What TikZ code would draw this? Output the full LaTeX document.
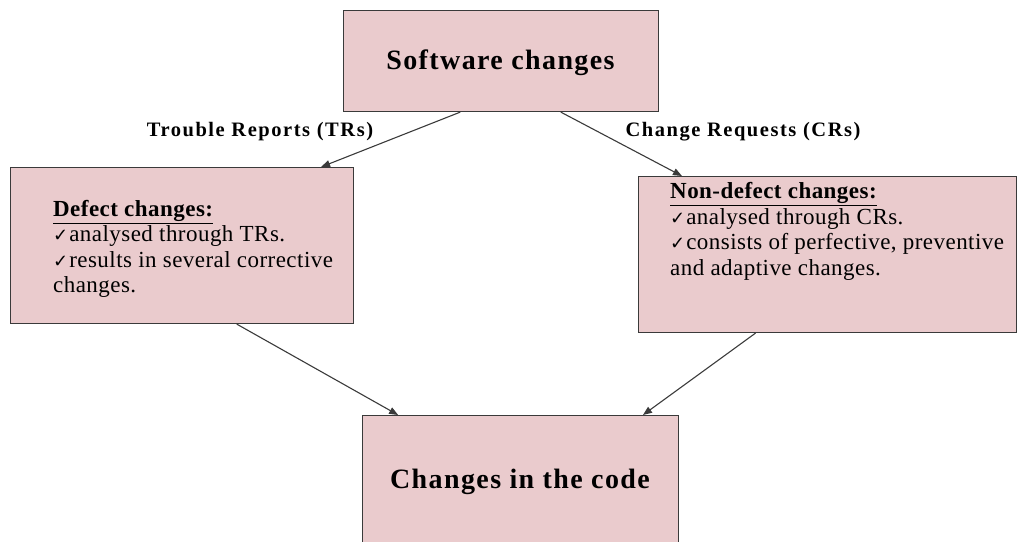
\documentclass[tikz,border=0pt]{standalone}
\usepackage{fontspec}
\setmainfont{Liberation Serif}
\newfontfamily\tickfont{DejaVu Sans}
\usetikzlibrary{arrows.meta,calc}
\definecolor{boxfill}{HTML}{EACBCD}
\definecolor{edge}{HTML}{3A3A3A}
% check mark used at the start of each bullet line
\newcommand{\tick}{{\tickfont\fontsize{18}{18}\selectfont ✓}\hspace{1pt}}

\begin{document}
\begin{tikzpicture}[x=1pt,y=1pt,
  box/.style={draw=edge, fill=boxfill, line width=1.1pt, inner sep=0pt, anchor=north west},
  flow/.style={draw=edge, line width=1.1pt, -{Triangle[length=9pt,width=7pt]}},
  title/.style={inner sep=0pt, font=\bfseries\fontsize{28}{30}\selectfont\addfontfeature{LetterSpace=5}},
  lbl/.style={inner sep=0pt, font=\bfseries\fontsize{20.5}{22}\selectfont\addfontfeature{LetterSpace=7.5}},
  body/.style={align=left, anchor=west, inner sep=0pt, font=\fontsize{23}{25.5}\selectfont\addfontfeature{LetterSpace=2}}]
\useasboundingbox (0,0) rectangle (1019,-541);

% boxes
\node[box, minimum width=315, minimum height=101] (sw) at (343,-10) {};
\node[box, minimum width=343, minimum height=156] (def) at (10,-167) {};
\node[box, minimum width=378, minimum height=156] (ndef) at (638,-176) {};
\node[box, minimum width=316, minimum height=140] (code) at (362,-415) {};

% box texts
\node[title] (swt) at (500.5,-63) {Software changes};
\node[title] (codet) at (520,-482) {Changes in the code};
\node[body] (deft) at (53,-249) {\textbf{\underline{Defect changes:}}\\
  \tick analysed through TRs.\\
  \tick results in several corrective\\
  changes.};
\node[body] (ndeft) at (670,-231.5) {\textbf{\underline{Non-defect changes:}}\\
  \tick analysed through CRs.\\
  \tick consists of perfective, preventive\\
  and adaptive changes.};

% connector labels
\node[lbl] (tr) at (260,-132) {Trouble Reports (TRs)};
\node[lbl] (cr) at (743,-132) {Change Requests (CRs)};

% connectors
\draw[flow] ($(sw.south west)!0.371!(sw.south east)$) -- ($(def.north west)!0.904!(def.north east)$);
\draw[flow] ($(sw.south west)!0.689!(sw.south east)$) -- ($(ndef.north west)!0.116!(ndef.north east)$);
\draw[flow] ($(def.south west)!0.659!(def.south east)$) -- ($(code.north west)!0.114!(code.north east)$);
\draw[flow] ($(ndef.south west)!0.31!(ndef.south east)$) -- ($(code.north west)!0.886!(code.north east)$);
\end{tikzpicture}
\end{document}
